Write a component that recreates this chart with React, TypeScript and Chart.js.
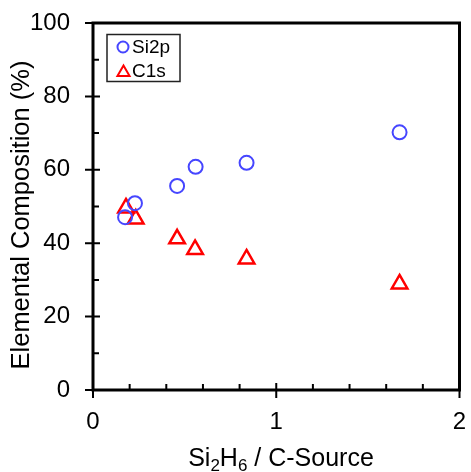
import React, { useEffect, useRef } from "react";
import { Chart, registerables } from "chart.js";

Chart.register(...registerables);

const xSi2p = [0.175, 0.229, 0.459, 0.56, 0.838, 1.673];
const ySi2p = [47.1, 50.9, 55.6, 60.8, 61.9, 70.2];
const xC1s = [0.18, 0.233, 0.459, 0.557, 0.838, 1.673];
const yC1s = [49.6, 46.6, 41.2, 38.3, 35.7, 28.9];

const xMajorTicks = [0, 1, 2];
const xMinorTicks = [0.2, 0.4, 0.6, 0.8, 1.2, 1.4, 1.6, 1.8];
const yMajorTicks = [0, 20, 40, 60, 80, 100];
const yMinorTicks = [10, 30, 50, 70, 90];

const seriesLabels = ["Si2p", "C1s"];
const yTitle = "Elemental Composition (%)";

const FONT = "'Liberation Sans', Arial, sans-serif";
const BLUE = "#4646ff";
const RED = "#ff0000";

const framePlugin = {
  id: "frameAndDecor",
  afterDraw(chart: any) {
    const { ctx, chartArea } = chart;
    const xs = chart.scales.x;
    const ys = chart.scales.y;
    const { left, right, top, bottom } = chartArea;
    ctx.save();
    ctx.strokeStyle = "#000";
    ctx.lineWidth = 3;
    ctx.strokeRect(left, top, right - left, bottom - top);

    ctx.lineWidth = 2;
    ctx.beginPath();
    yMajorTicks.forEach((v) => {
      const p = ys.getPixelForValue(v);
      ctx.moveTo(left - 8, p);
      ctx.lineTo(left + 7, p);
    });
    yMinorTicks.forEach((v) => {
      const p = ys.getPixelForValue(v);
      ctx.moveTo(left, p);
      ctx.lineTo(left + 6, p);
    });
    xMajorTicks.forEach((v) => {
      const p = xs.getPixelForValue(v);
      ctx.moveTo(p, bottom - 7);
      ctx.lineTo(p, bottom + 8);
    });
    xMinorTicks.forEach((v) => {
      const p = xs.getPixelForValue(v);
      ctx.moveTo(p, bottom);
      ctx.lineTo(p, bottom - 6);
    });
    ctx.stroke();

    // y title
    ctx.fillStyle = "#000";
    ctx.font = `25.5px ${FONT}`;
    ctx.textAlign = "center";
    ctx.textBaseline = "middle";
    ctx.save();
    ctx.translate(22, 215);
    ctx.rotate(-Math.PI / 2);
    ctx.fillText(yTitle, 0, 0);
    ctx.restore();

    // x title with subscripts
    const big = `25px ${FONT}`;
    const small = `17px ${FONT}`;
    const parts: [string, boolean][] = [
      ["Si", false],
      ["2", true],
      ["H", false],
      ["6", true],
      [" / C-Source", false],
    ];
    let total = 0;
    parts.forEach(([t, sub]) => {
      ctx.font = sub ? small : big;
      total += ctx.measureText(t).width;
    });
    let cx = 281 - total / 2;
    const base = 466;
    ctx.textAlign = "left";
    ctx.textBaseline = "alphabetic";
    parts.forEach(([t, sub]) => {
      ctx.font = sub ? small : big;
      ctx.fillText(t, cx, sub ? base + 5 : base);
      cx += ctx.measureText(t).width;
    });

    // legend box
    const lx = left + 14;
    const ly = top + 11.5;
    ctx.lineWidth = 1.5;
    ctx.strokeStyle = "#222";
    ctx.strokeRect(lx, ly, 73, 47);
    const datasets = chart.data.datasets;
    ctx.lineWidth = 2;
    ctx.strokeStyle = datasets[0].borderColor;
    ctx.beginPath();
    ctx.arc(lx + 16, ly + 12.5, 5.5, 0, Math.PI * 2);
    ctx.stroke();
    const tr = 7;
    const tcx = lx + 16.5;
    const tcy = ly + 38;
    ctx.strokeStyle = datasets[1].borderColor;
    ctx.beginPath();
    ctx.moveTo(tcx, tcy - tr);
    ctx.lineTo(tcx + tr * Math.sin(Math.PI / 3), tcy + tr / 2);
    ctx.lineTo(tcx - tr * Math.sin(Math.PI / 3), tcy + tr / 2);
    ctx.closePath();
    ctx.stroke();
    ctx.fillStyle = "#000";
    ctx.font = `19px ${FONT}`;
    ctx.textBaseline = "middle";
    ctx.fillText(datasets[0].label, lx + 25, ly + 13.5);
    ctx.fillText(datasets[1].label, lx + 25, ly + 37);
    ctx.restore();
  },
};

export default function App() {
  const ref = useRef<HTMLCanvasElement>(null);
  useEffect(() => {
    document.body.style.margin = "0";
    const canvas = ref.current!;
    const chart = new Chart(canvas, {
      type: "scatter",
      data: {
        datasets: [
          {
            label: seriesLabels[0],
            data: xSi2p.map((x, i) => ({ x, y: ySi2p[i] })),
            pointStyle: "circle",
            pointRadius: 7,
            borderWidth: 2,
            borderColor: BLUE,
            backgroundColor: "rgba(0,0,0,0)",
          },
          {
            label: seriesLabels[1],
            data: xC1s.map((x, i) => ({ x, y: yC1s[i] })),
            pointStyle: "triangle",
            pointRadius: 9,
            borderWidth: 2.5,
            borderColor: RED,
            backgroundColor: "rgba(0,0,0,0)",
          },
        ],
      },
      options: {
        responsive: false,
        animation: false,
        layout: { padding: { top: 23, right: 11, left: 0, bottom: 0 } },
        plugins: { legend: { display: false }, tooltip: { enabled: false } },
        scales: {
          x: {
            type: "linear",
            min: 0,
            max: 2,
            grid: { display: false, drawTicks: false },
            border: { display: false },
            ticks: {
              stepSize: 1,
              padding: 18,
              color: "#000",
              font: { size: 24, family: FONT },
              maxRotation: 0,
            },
            afterFit: (s: any) => {
              s.height = 82;
              s.paddingLeft = 0;
              s.paddingRight = 0;
            },
          },
          y: {
            type: "linear",
            min: 0,
            max: 100,
            grid: { display: false, drawTicks: false },
            border: { display: false },
            ticks: {
              stepSize: 20,
              padding: 23,
              color: "#000",
              font: { size: 24, family: FONT },
            },
            afterFit: (s: any) => {
              s.width = 93;
              s.paddingTop = 0;
              s.paddingBottom = 0;
            },
          },
        },
      },
      plugins: [framePlugin],
    });
    return () => chart.destroy();
  }, []);
  return (
    <div style={{ width: 471, height: 472 }}>
      <canvas ref={ref} width={471} height={472} />
    </div>
  );
}
